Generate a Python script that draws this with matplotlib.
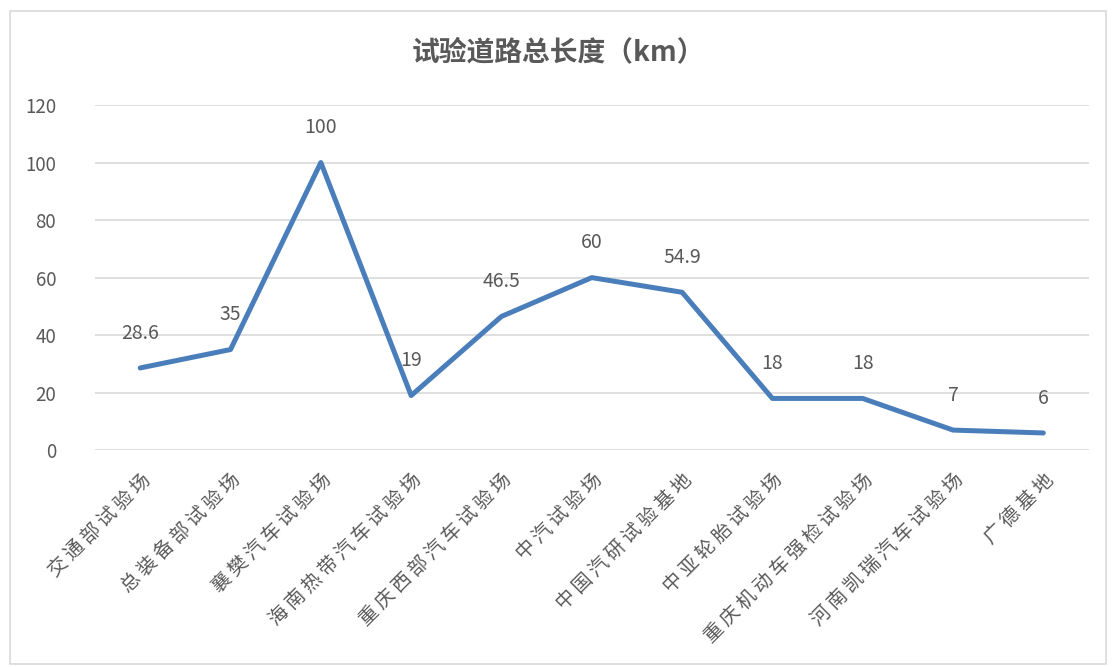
import matplotlib
matplotlib.use("Agg")
import matplotlib.pyplot as plt
from matplotlib.patches import Rectangle

plt.rcParams['font.family'] = ['Noto Sans CJK SC', 'DejaVu Sans']

sites = ["交通部试验场", "总装备部试验场", "襄樊汽车试验场", "海南热带汽车试验场",
         "重庆西部汽车试验场", "中汽试验场", "中国汽研试验基地", "中亚轮胎试验场",
         "重庆机动车强检试验场", "河南凯瑞汽车试验场", "广德基地"]
lengths = [28.6, 35, 100, 19, 46.5, 60, 54.9, 18, 18, 7, 6]
value_labels = ["28.6", "35", "100", "19", "46.5", "60", "54.9", "18", "18", "7", "6"]
yticks = [0, 20, 40, 60, 80, 100, 120]

TEXT = "#595959"
LINE = "#4A7EBB"

fig = plt.figure(figsize=(11.13, 6.67), dpi=100)
ax = fig.add_axes([0.0854, 0.325, 0.8926, 0.5176])

x = list(range(len(sites)))
ax.plot(x, lengths, color=LINE, linewidth=3.6, solid_capstyle='round', solid_joinstyle='round', zorder=3)

for xi, v, lab in zip(x, lengths, value_labels):
    ax.annotate(lab, (xi, v), xytext=(0, 25), textcoords='offset points',
                ha='center', va='center', fontsize=14, color=TEXT)

# spread the characters a little, like the wide serif font of the original
spaced = ["\u2009".join(s) for s in sites]

ax.set_xlim(-0.5, len(sites) - 0.5)
ax.set_ylim(0, 120)
ax.set_yticks(yticks)
ax.set_yticklabels([str(t) for t in yticks], fontsize=13.5, color=TEXT)
ax.set_xticks(x)
ax.set_xticklabels(spaced, rotation=45, ha='right', rotation_mode='anchor', fontsize=14, color=TEXT)
ax.tick_params(axis='both', length=0)
ax.tick_params(axis='y', pad=28)
ax.tick_params(axis='x', pad=14)
ax.grid(axis='y', color='#D9D9D9', linewidth=1.2)
ax.set_axisbelow(True)
for s in ax.spines.values():
    s.set_visible(False)

fig.text(0.502, 0.922, "试验道路总长度（km）", ha='center', va='center',
         fontsize=20, fontweight='bold', color=TEXT)

fig.patches.append(Rectangle((0.009, 0.004), 0.985, 0.98, transform=fig.transFigure,
                             fill=False, edgecolor='#D9D9D9', linewidth=1.2))

fig.savefig("out.png", dpi=100)
